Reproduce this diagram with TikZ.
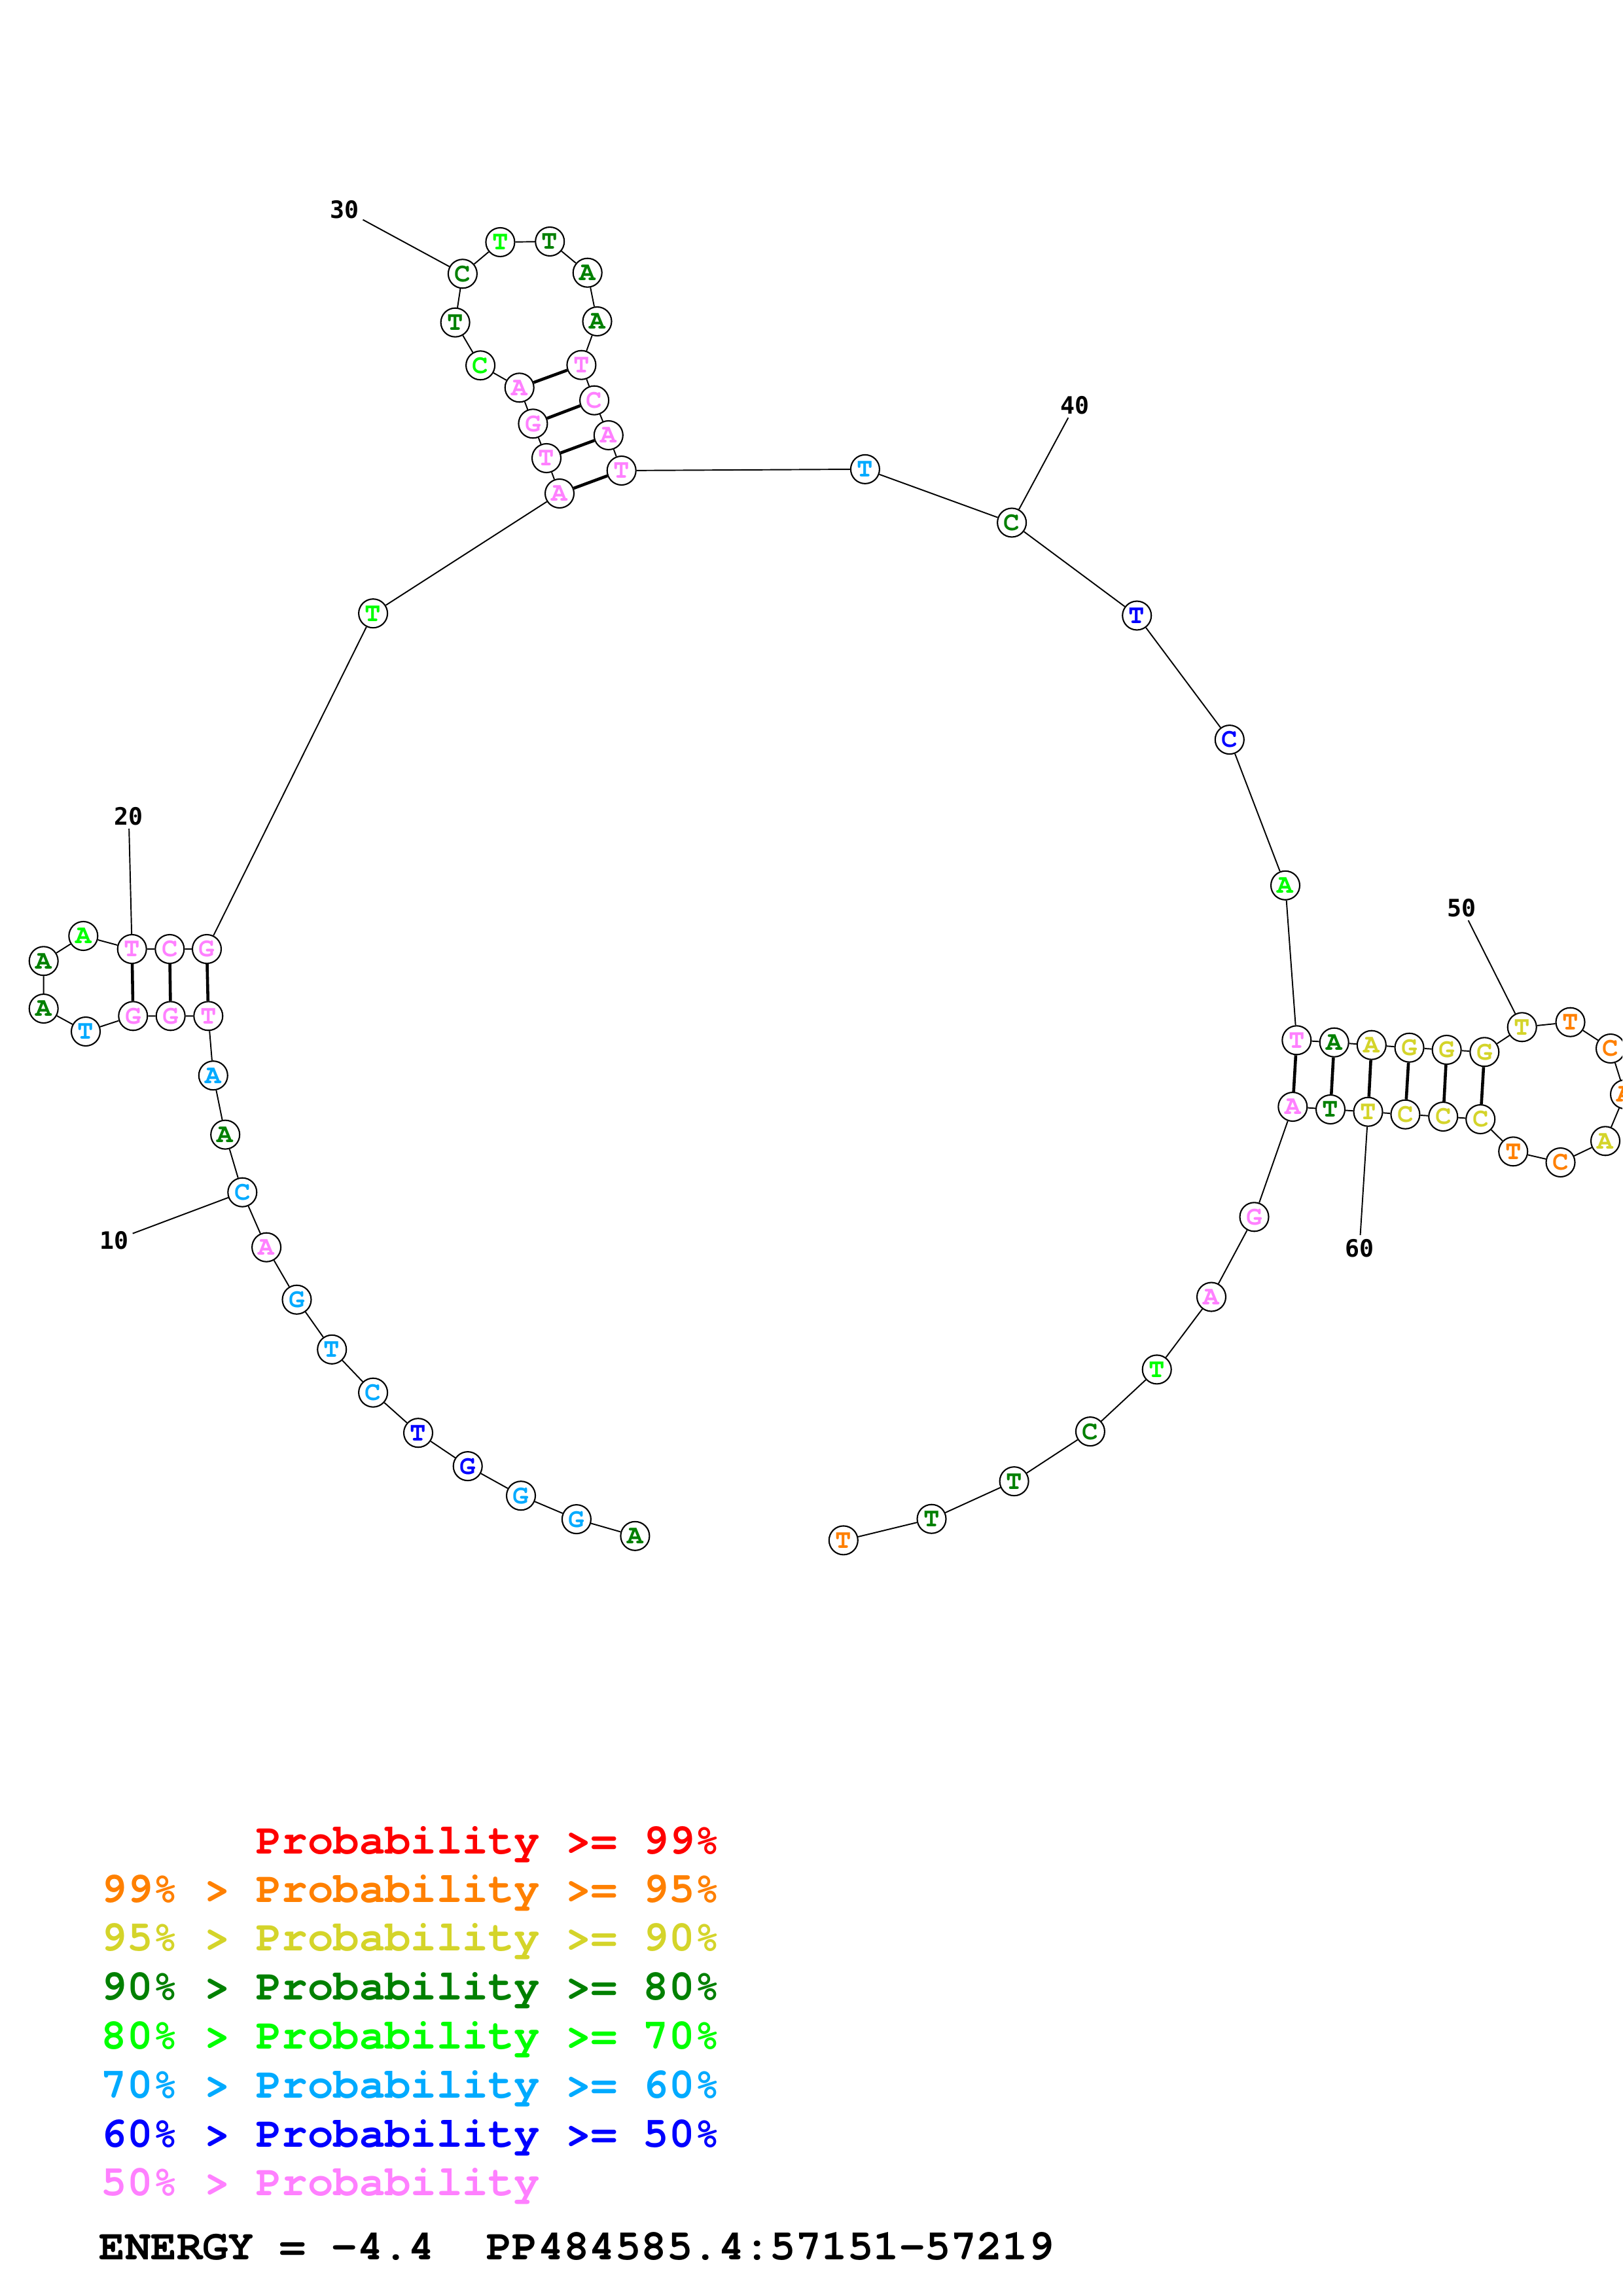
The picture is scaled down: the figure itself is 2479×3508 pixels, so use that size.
\documentclass[tikz,border=0pt]{standalone}
\usepackage{fontspec}
\usepackage{tikz}
\setmonofont{TeX Gyre Cursor}
\newfontfamily\labelfamily{DejaVu Sans Mono}

\definecolor{prob99}{RGB}{255,0,0}
\definecolor{prob95}{RGB}{255,128,0}
\definecolor{prob90}{RGB}{212,212,42}
\definecolor{prob80}{RGB}{0,128,0}
\definecolor{prob70}{RGB}{0,255,0}
\definecolor{prob60}{RGB}{0,170,255}
\definecolor{prob50}{RGB}{0,0,255}
\definecolor{problow}{RGB}{255,128,255}

\begin{document}
\begin{tikzpicture}
            [
                x=0.1mm, y=-0.1mm,
                nuc/.style={circle, draw, line width=0.6pt, fill=white,
                    minimum size=4.4mm, inner sep=0pt,
                    font=\ttfamily\bfseries\fontsize{11.6}{12}\selectfont},
                p95/.style={nuc, text=prob95},
                p90/.style={nuc, text=prob90},
                p80/.style={nuc, text=prob80},
                p70/.style={nuc, text=prob70},
                p60/.style={nuc, text=prob60},
                p50/.style={nuc, text=prob50},
                plow/.style={nuc, text=problow},
                backbone/.style={line width=0.55pt},
                pair/.style={line width=1.3pt},
                numlabel/.style={inner sep=0.5mm,
                    font=\labelfamily\bfseries\fontsize{10.4}{12}\selectfont},
                legend/.style={anchor=base west, inner sep=0pt,
                    font=\ttfamily\bfseries\fontsize{18.7}{22}\selectfont}
            ]
            \clip (0,0) rectangle (2479,3508);

            \node [p80] (n1) at (970.4,2346.8) {A};
            \node [p60] (n2) at (880.9,2321.1) {G};
            \node [p60] (n3) at (796,2285.2) {G};
            \node [p50] (n4) at (714.7,2240.1) {G};
            \node [p50] (n5) at (639,2189.2) {T};
            \node [p60] (n6) at (570.1,2127.7) {C};
            \node [p60] (n7) at (507.2,2061.8) {T};
            \node [p60] (n8) at (453.5,1985.7) {G};
            \node [plow] (n9) at (407.1,1905.7) {A};
            \node [p60] (n10) at (370.3,1821.7) {C};
            \node [p80] (n11) at (344.2,1733.6) {A};
            \node [p60] (n12) at (325.8,1643.2) {A};
            \node [plow] (n13) at (318.3,1552.3) {T};
            \node [plow] (n14) at (260.7,1552.3) {G};
            \node [plow] (n15) at (203.3,1552.3) {G};
            \node [p60] (n16) at (131,1576) {T};
            \node [p80] (n17) at (66.7,1541) {A};
            \node [p80] (n18) at (66.7,1468.3) {A};
            \node [p70] (n19) at (127.3,1430) {A};
            \node [plow] (n20) at (201.7,1450) {T};
            \node [plow] (n21) at (259.3,1450) {C};
            \node [plow] (n22) at (316,1450) {G};
            \node [p70] (n23) at (570.1,937.2) {T};
            \node [plow] (n24) at (855,754) {A};
            \node [plow] (n25) at (835,700) {T};
            \node [plow] (n26) at (814.4,647.3) {G};
            \node [plow] (n27) at (793.7,592.3) {A};
            \node [p70] (n28) at (734.1,558.3) {C};
            \node [p80] (n29) at (695.6,492.7) {T};
            \node [p80] (n30) at (706.9,418.3) {C};
            \node [p70] (n31) at (764.4,370) {T};
            \node [p80] (n32) at (840.2,369) {T};
            \node [p80] (n33) at (897.7,416.7) {A};
            \node [p80] (n34) at (912.5,491) {A};
            \node [plow] (n35) at (888.4,557.7) {T};
            \node [plow] (n36) at (908.1,611.7) {C};
            \node [plow] (n37) at (929.8,665) {A};
            \node [plow] (n38) at (949.7,719) {T};
            \node [p60] (n39) at (1321.9,716.9) {T};
            \node [p80] (n40) at (1546.1,798.5) {C};
            \node [p50] (n41) at (1737.2,940.5) {T};
            \node [p50] (n42) at (1878.8,1130.1) {C};
            \node [p70] (n43) at (1964,1352.8) {A};
            \node [plow] (n44) at (1981.3,1589.3) {T};
            \node [p80] (n45) at (2038.7,1592.7) {A};
            \node [p90] (n46) at (2095.8,1596.7) {A};
            \node [p90] (n47) at (2153.5,1600.7) {G};
            \node [p90] (n48) at (2210.6,1604) {G};
            \node [p90] (n49) at (2268.3,1607.3) {G};
            \node [p90] (n50) at (2325.7,1569.3) {T};
            \node [p95] (n51) at (2399.5,1561.7) {T};
            \node [p95] (n52) at (2461,1602) {C};
            \node [p95] (n53) at (2483,1672) {A};
            \node [p90] (n54) at (2453,1743.3) {A};
            \node [p95] (n55) at (2384.5,1776) {C};
            \node [p95] (n56) at (2312.2,1759.3) {T};
            \node [p90] (n57) at (2262.2,1710) {C};
            \node [p90] (n58) at (2205.2,1706) {C};
            \node [p90] (n59) at (2147.4,1702.7) {C};
            \node [p90] (n60) at (2090.5,1698.7) {T};
            \node [p80] (n61) at (2033,1695) {T};
            \node [plow] (n62) at (1975.3,1691) {A};
            \node [plow] (n63) at (1916.5,1859.3) {G};
            \node [plow] (n64) at (1851,1981.5) {A};
            \node [p70] (n65) at (1767.7,2092.4) {T};
            \node [p80] (n66) at (1665.9,2187.1) {C};
            \node [p80] (n67) at (1549.6,2263.2) {T};
            \node [p80] (n68) at (1423.5,2320.7) {T};
            \node [p95] (n69) at (1288.8,2353.4) {T};

            \draw [backbone] (n1) -- (n2) -- (n3) -- (n4) -- (n5) -- (n6) -- (n7)
                -- (n8) -- (n9) -- (n10) -- (n11) -- (n12) -- (n13) -- (n14)
                -- (n15) -- (n16) -- (n17) -- (n18) -- (n19) -- (n20) -- (n21)
                -- (n22) -- (n23) -- (n24) -- (n25) -- (n26) -- (n27) -- (n28)
                -- (n29) -- (n30) -- (n31) -- (n32) -- (n33) -- (n34) -- (n35)
                -- (n36) -- (n37) -- (n38) -- (n39) -- (n40) -- (n41) -- (n42)
                -- (n43) -- (n44) -- (n45) -- (n46) -- (n47) -- (n48) -- (n49)
                -- (n50) -- (n51) -- (n52) -- (n53) -- (n54) -- (n55) -- (n56)
                -- (n57) -- (n58) -- (n59) -- (n60) -- (n61) -- (n62) -- (n63)
                -- (n64) -- (n65) -- (n66) -- (n67) -- (n68) -- (n69);

            \draw [pair] (n13) -- (n22);
            \draw [pair] (n14) -- (n21);
            \draw [pair] (n15) -- (n20);
            \draw [pair] (n24) -- (n38);
            \draw [pair] (n25) -- (n37);
            \draw [pair] (n26) -- (n36);
            \draw [pair] (n27) -- (n35);
            \draw [pair] (n44) -- (n62);
            \draw [pair] (n45) -- (n61);
            \draw [pair] (n46) -- (n60);
            \draw [pair] (n47) -- (n59);
            \draw [pair] (n48) -- (n58);
            \draw [pair] (n49) -- (n57);

            \node [numlabel] (lab10) at (175,1895) {10};
            \node [numlabel] (lab20) at (196.7,1246.7) {20};
            \node [numlabel] (lab30) at (526.8,320.7) {30};
            \node [numlabel] (lab40) at (1642.8,618.7) {40};
            \node [numlabel] (lab50) at (2233.7,1386.7) {50};
            \node [numlabel] (lab60) at (2077.3,1906.7) {60};
            \draw [backbone] (n10) -- (lab10);
            \draw [backbone] (n20) -- (lab20);
            \draw [backbone] (n30) -- (lab30);
            \draw [backbone] (n40) -- (lab40);
            \draw [backbone] (n50) -- (lab50);
            \draw [backbone] (n60) -- (lab60);

            \node [legend, text=prob99] (key99) at (154,2832.5) {\phantom{99\% >\ }Probability >= 99\%};
            \node [legend, text=prob95] (key95) at (154,2906.2) {99\% > Probability >= 95\%};
            \node [legend, text=prob90] (key90) at (154,2980.7) {95\% > Probability >= 90\%};
            \node [legend, text=prob80] (key80) at (154,3055.7) {90\% > Probability >= 80\%};
            \node [legend, text=prob70] (key70) at (154,3130.7) {80\% > Probability >= 70\%};
            \node [legend, text=prob60] (key60) at (154,3205.3) {70\% > Probability >= 60\%};
            \node [legend, text=prob50] (key50) at (154,3280.3) {60\% > Probability >= 50\%};
            \node [legend, text=problow] (keylow) at (154,3354.8) {50\% > Probability};
            \node [legend] (energy) at (151,3452) {ENERGY = -4.4\ \ PP484585.4:57151-57219};
        \end{tikzpicture}
\end{document}
